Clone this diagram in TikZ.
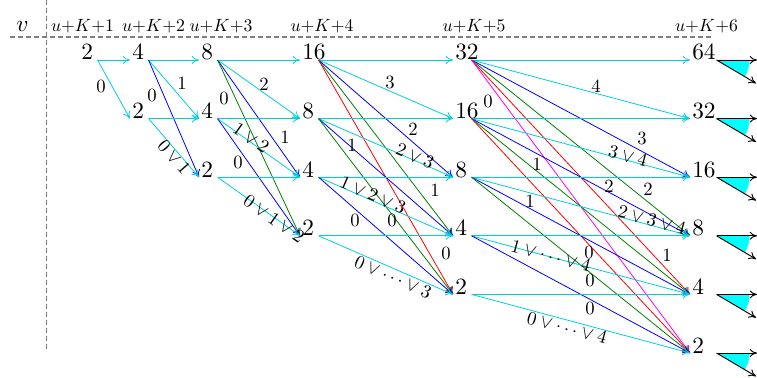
\RequirePackage{fix-cm}
\documentclass[tikz,border=0pt]{standalone}
\usepackage{graphicx}
\usetikzlibrary{arrows.meta}
\definecolor{ecyan}{RGB}{0,208,216}
\definecolor{egreen}{RGB}{0,128,0}
\definecolor{emagenta}{RGB}{255,0,255}
\definecolor{eblue}{RGB}{0,0,255}
\definecolor{ered}{RGB}{255,0,0}
\definecolor{wcyan}{RGB}{0,255,255}
\definecolor{guidegray}{RGB}{125,125,125}
\newcommand\nbox[1]{\makebox[10.5pt][l]{\scalebox{1.75}{#1}}}
\newcommand\nboxw[1]{\makebox[16.5pt][l]{\scalebox{1.75}{#1}}}
\newcommand\lbtxt[1]{\scalebox{1.4}{$#1$}}
\newcommand\hdtxt[1]{\scalebox{1.33}{$#1$}}
\begin{document}
\begin{tikzpicture}[x=0.75pt,y=-0.75pt,
  num/.style={font=\normalsize, inner xsep=1.5pt, inner ysep=0pt, anchor=base west},
  lab/.style={font=\normalsize, inner sep=0pt},
  hdr/.style={font=\normalsize, inner sep=0pt, anchor=base},
  conn/.style={line width=0.6pt, -{To[length=5.5pt,width=6pt]}},
  e0/.style={conn, draw=ecyan},
  e1/.style={conn, draw=ecyan},
  e2/.style={conn, draw=eblue},
  e3/.style={conn, draw=egreen},
  e4/.style={conn, draw=ered},
  e5/.style={conn, draw=emagenta},
  guide/.style={draw=guidegray, line width=1pt, dash pattern=on 3.75pt off 2.25pt},
  blk/.style={line width=0.7pt, draw=black, -{To[length=5.5pt,width=6pt]}},
  wedge/.style={fill=wcyan, draw=none}]
\useasboundingbox (0,0) rectangle (757,378);

% guide lines
\draw[guide] (10,37) -- (712,37);
\draw[guide] (46.5,0) -- (46.5,350);

% headers
\node[hdr] (hv) at (22.5,32) {\scalebox{1.75}{$v$}};
\node[hdr] (h1) at (82.5,32) {\hdtxt{u{+}K{+}1}};
\node[hdr] (h2) at (153.5,32) {\hdtxt{u{+}K{+}2}};
\node[hdr] (h3) at (221,32) {\hdtxt{u{+}K{+}3}};
\node[hdr] (h4) at (322,32) {\hdtxt{u{+}K{+}4}};
\node[hdr] (h5) at (474,32) {\hdtxt{u{+}K{+}5}};
\node[hdr] (h6) at (706.5,32) {\hdtxt{u{+}K{+}6}};

% value nodes
\node[num] (n1-0) at (79,60) {\nbox{2}};
\node[num] (n2-0) at (130,60) {\nbox{4}};
\node[num] (n2-1) at (130,118.6) {\nbox{2}};
\node[num] (n3-0) at (199,60) {\nbox{8}};
\node[num] (n3-1) at (199,118.6) {\nbox{4}};
\node[num] (n3-2) at (199,177.2) {\nbox{2}};
\node[num] (n4-0) at (300,60) {\nbox{16}};
\node[num] (n4-1) at (300,118.6) {\nbox{8}};
\node[num] (n4-2) at (300,177.2) {\nbox{4}};
\node[num] (n4-3) at (300,235.8) {\nbox{2}};
\node[num] (n5-0) at (453,60) {\nbox{32}};
\node[num] (n5-1) at (453,118.6) {\nbox{16}};
\node[num] (n5-2) at (453,177.2) {\nbox{8}};
\node[num] (n5-3) at (453,235.8) {\nbox{4}};
\node[num] (n5-4) at (453,294.4) {\nbox{2}};
\node[num] (n6-0) at (690,60) {\nboxw{64}};
\node[num] (n6-1) at (690,118.6) {\nboxw{32}};
\node[num] (n6-2) at (690,177.2) {\nboxw{16}};
\node[num] (n6-3) at (690,235.8) {\nboxw{8}};
\node[num] (n6-4) at (690,294.4) {\nboxw{4}};
\node[num] (n6-5) at (690,353) {\nboxw{2}};

% transitions
\foreach \j in {1,...,5}{
  \pgfmathtruncatemacro\jn{\j+1}
  \pgfmathtruncatemacro\jm{\j-1}
  \foreach \r in {0,...,\jm}{
    \pgfmathtruncatemacro\dmax{\j-\r}
    \foreach \d in {0,...,\dmax}{
      \pgfmathtruncatemacro\tr{\r+\d}
      \draw[e\d] (n\j-\r.base east) -- (n\jn-\tr.base west);
    }
  }
}

% outgoing black arrows with cyan sectors
\foreach \r/\yy in {0/60,1/118.6,2/177.2,3/235.8,4/294.4,5/353}{
  \coordinate (ha\r) at (757,\yy);
  \coordinate (hb\r) at (756,\yy+23.3);
  \fill[wedge] (n6-\r.base east) -- ++(33,0) arc[start angle=0,end angle=30,radius=33] -- cycle;
  \draw[blk] (n6-\r.base east) -- (ha\r);
  \draw[blk] (n6-\r.base east) -- (hb\r);
}

% labels, column 1 -> 2
\node[lab] (l10) at (101,86) {\lbtxt{0}};
% column 2 -> 3
\node[lab] (l20) at (182,83) {\lbtxt{1}};
\node[lab] (l21) at (152,95) {\lbtxt{0}};
\node[lab, rotate=-49] (l22) at (174,157) {\lbtxt{0\vee 1}};
% column 3 -> 4
\node[lab] (l30) at (264,84) {\lbtxt{2}};
\node[lab] (l31) at (285,137) {\lbtxt{1}};
\node[lab] (l32) at (224,98) {\lbtxt{0}};
\node[lab] (l33) at (238,162) {\lbtxt{0}};
\node[lab, rotate=-35.2] (l34) at (251,138) {\lbtxt{1\vee 2}};
\node[lab, rotate=-35.2] (l35) at (274,219) {\lbtxt{0\vee 1\vee 2}};
% column 4 -> 5
\node[lab] (l40) at (390,82) {\lbtxt{3}};
\node[lab] (l41) at (413,129) {\lbtxt{2}};
\node[lab] (l42) at (352,145) {\lbtxt{1}};
\node[lab] (l43) at (435,190) {\lbtxt{1}};
\node[lab] (l44) at (446,253) {\lbtxt{0}};
\node[lab] (l45) at (355,220) {\lbtxt{0}};
\node[lab] (l46) at (392,220) {\lbtxt{0}};
\node[lab, rotate=-23.5] (l47) at (415,156) {\lbtxt{2\vee 3}};
\node[lab, rotate=-23.5] (l48) at (373,195) {\lbtxt{1\vee 2\vee 3}};
\node[lab, rotate=-23.5] (l49) at (393,277) {\lbtxt{0\vee\cdots\vee 3}};
% column 5 -> 6
\node[lab] (l50) at (596,86) {\lbtxt{4}};
\node[lab] (l51) at (488,101) {\lbtxt{0}};
\node[lab] (l52) at (642,138) {\lbtxt{3}};
\node[lab] (l53) at (537,164) {\lbtxt{1}};
\node[lab] (l54) at (609,186) {\lbtxt{2}};
\node[lab] (l55) at (648,189) {\lbtxt{2}};
\node[lab] (l56) at (530,201) {\lbtxt{1}};
\node[lab] (l57) at (589,252) {\lbtxt{0}};
\node[lab] (l58) at (667,255) {\lbtxt{1}};
\node[lab] (l59) at (590,280) {\lbtxt{0}};
\node[lab] (l5a) at (590,308) {\lbtxt{0}};
\node[lab, rotate=-15] (l5b) at (628,156) {\lbtxt{3\vee 4}};
\node[lab, rotate=-15] (l5c) at (652,220) {\lbtxt{2\vee 3\vee 4}};
\node[lab, rotate=-15] (l5d) at (551,256) {\lbtxt{1\vee\cdots\vee 4}};
\node[lab, rotate=-15] (l5e) at (567,328) {\lbtxt{0\vee\cdots\vee 4}};
\end{tikzpicture}
\end{document}
